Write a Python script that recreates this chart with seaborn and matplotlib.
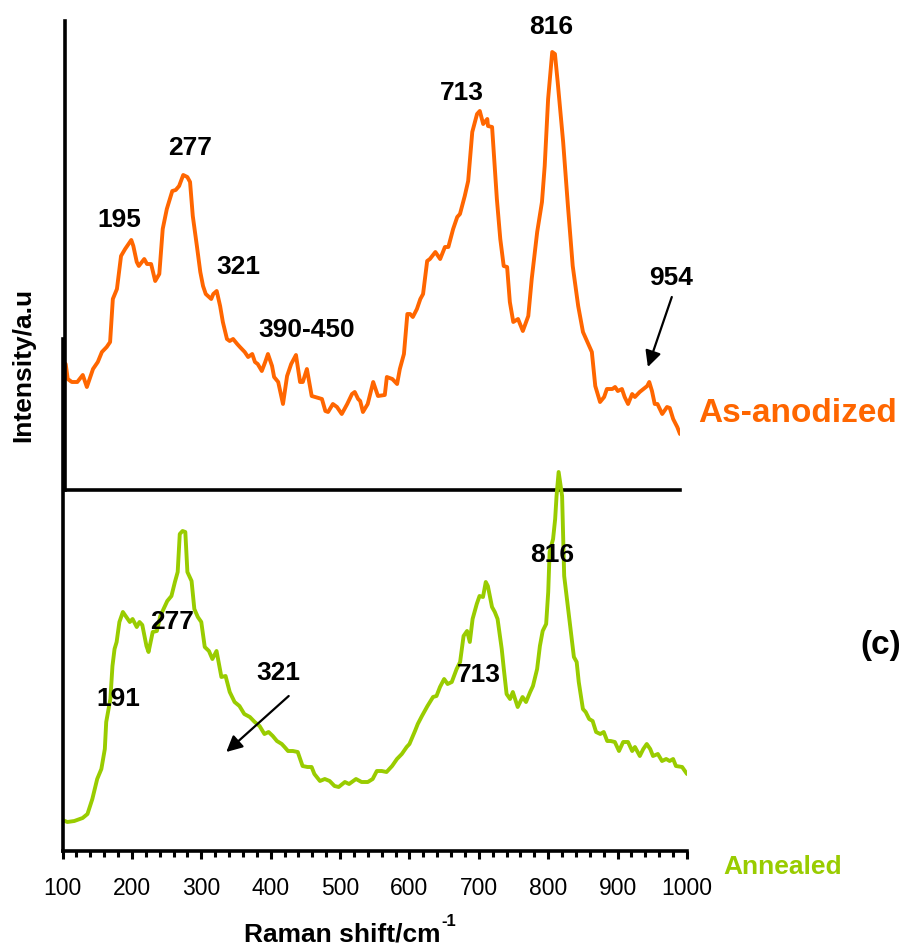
import numpy as np
import pandas as pd
import matplotlib
matplotlib.use("Agg")
import matplotlib.pyplot as plt
import seaborn as sns

# ---------------- data (arbitrary intensity units) ----------------
anod_shift = [101, 104, 110, 118, 126, 132, 141, 148, 154, 161, 166, 170, 176, 182, 188, 197, 200,
              205, 208, 216, 220, 226, 232, 238, 243, 249, 257, 262, 267, 273, 279, 283, 287, 293,
              298, 302, 306, 314, 317, 322, 327, 331, 337, 341, 346, 352, 356, 363, 368, 374, 378,
              382, 388, 393, 397, 403, 406, 412, 419, 425, 431, 438, 444, 448, 454, 461, 466, 476,
              481, 485, 492, 498, 505, 513, 520, 524, 529, 532, 536, 543, 551, 558, 568, 571, 579,
              586, 590, 596, 601, 605, 609, 615, 620, 624, 630, 634, 642, 649, 656, 661, 668, 674,
              678, 685, 690, 696, 703, 707, 712, 718, 719, 725, 732, 737, 742, 747, 751, 756, 763,
              770, 778, 783, 791, 798, 802, 807, 813, 817, 821, 829, 836, 843, 851, 858, 871, 876,
              883, 889, 893, 901, 905, 909, 915, 919, 924, 930, 934, 941, 952, 955, 959, 963, 967,
              974, 981, 985, 990, 996, 1000]
anod_int = [126, 111, 108, 108, 115, 103, 121, 128, 138, 143, 148, 191, 201, 234, 241, 250, 244,
            228, 224, 231, 226, 226, 209, 216, 261, 281, 299, 300, 304, 315, 313, 308, 274, 244,
            218, 204, 196, 191, 196, 199, 184, 168, 151, 149, 151, 146, 143, 138, 133, 136, 128,
            126, 119, 128, 136, 124, 113, 108, 86, 114, 126, 135, 108, 108, 121, 94, 93, 91,
            79, 78, 86, 83, 76, 86, 96, 98, 91, 89, 78, 86, 108, 94, 95, 113, 111,
            106, 121, 136, 176, 176, 173, 181, 191, 196, 229, 231, 238, 231, 243, 243, 261, 273,
            276, 294, 309, 358, 376, 379, 366, 371, 364, 363, 291, 251, 224, 223, 188, 168, 171,
            159, 174, 211, 258, 288, 324, 391, 438, 436, 408, 348, 284, 224, 184, 158, 138, 104,
            88, 93, 101, 101, 103, 99, 101, 93, 86, 96, 93, 98, 104, 108, 99, 86, 86,
            76, 83, 82, 71, 63, 56]

ann_shift = [100, 107, 117, 129, 136, 143, 150, 156, 161, 163, 169, 172, 175, 178, 182, 187, 192,
             197, 201, 207, 211, 215, 221, 224, 230, 236, 241, 247, 251, 257, 262, 266, 269, 273,
             277, 280, 286, 290, 295, 300, 305, 311, 316, 322, 329, 335, 341, 348, 355, 362, 370,
             377, 384, 391, 397, 403, 409, 416, 420, 425, 432, 439, 442, 446, 453, 459, 463, 471,
             478, 485, 492, 498, 507, 513, 523, 531, 540, 547, 553, 560, 567, 575, 582, 589, 596,
             600, 608, 612, 618, 622, 626, 634, 639, 644, 650, 655, 661, 668, 673, 678, 683, 687,
             691, 697, 701, 706, 710, 713, 719, 723, 727, 733, 736, 740, 745, 749, 756, 763, 768,
             774, 778, 784, 788, 792, 797, 800, 802, 807, 810, 812, 815, 820, 823, 827, 831, 837,
             841, 844, 850, 854, 859, 864, 869, 875, 880, 885, 890, 896, 902, 908, 915, 921, 925,
             932, 937, 942, 947, 951, 958, 964, 970, 975, 980, 984, 993, 1000]
ann_int = [31, 29, 30, 33, 37, 52, 72, 82, 102, 129, 152, 185, 202, 209, 229, 239, 234,
           229, 232, 224, 229, 226, 205, 199, 219, 220, 235, 244, 250, 255, 269, 279, 317, 320,
           319, 279, 270, 242, 234, 229, 204, 200, 192, 200, 174, 175, 159, 149, 145, 137, 134,
           129, 125, 117, 119, 115, 110, 107, 104, 100, 100, 99, 93, 85, 84, 84, 77, 70,
           72, 70, 65, 64, 69, 67, 72, 69, 69, 72, 80, 80, 79, 85, 92, 97, 104,
           107, 120, 127, 135, 140, 145, 154, 155, 164, 172, 167, 169, 182, 189, 215, 220, 209,
           232, 247, 255, 254, 269, 265, 244, 239, 232, 202, 182, 157, 152, 159, 144, 154, 149,
           159, 165, 182, 205, 220, 227, 259, 299, 312, 332, 355, 379, 355, 275, 252, 229, 194,
           189, 169, 142, 139, 132, 130, 119, 117, 119, 110, 110, 109, 100, 109, 109, 100, 104,
           95, 102, 107, 102, 95, 97, 90, 92, 90, 92, 85, 84, 77]

xticks = [100, 200, 300, 400, 500, 600, 700, 800, 900, 1000]
top_labels = [("195", 179, 271), ("277", 283, 343), ("321", 353, 224), ("390-450", 454, 161),
              ("713", 681, 398), ("816", 811, 464), ("954", 987, 213)]
bot_labels = [("191", 180, 153), ("277", 258, 230), ("321", 411, 179), ("713", 700, 177),
              ("816", 805, 297)]

ORANGE = "#FF6600"
GREEN = "#99CC00"

# ---------------- style ----------------
sns.set_style("white")
plt.rcParams["font.family"] = ["Liberation Sans", "DejaVu Sans"]
plt.rcParams["text.color"] = "black"
plt.rcParams["xtick.color"] = "black"
plt.rcParams["xtick.labelcolor"] = "black"
plt.rcParams["axes.labelcolor"] = "black"

fig = plt.figure(figsize=(9.06, 9.53), dpi=100)
W, H = 906, 953

ax_top = fig.add_axes([65 / W, 1 - 491 / H, 615 / W, (491 - 22) / H])
ax_bot = fig.add_axes([62.5 / W, 1 - 852 / H, 624.5 / W, (852 - 340) / H])

df_a = pd.DataFrame({"shift": anod_shift, "intensity": anod_int})
df_b = pd.DataFrame({"shift": ann_shift, "intensity": ann_int})

sns.lineplot(data=df_a, x="shift", y="intensity", ax=ax_top, color=ORANGE, lw=2.8)
sns.lineplot(data=df_b, x="shift", y="intensity", ax=ax_bot, color=GREEN, lw=2.8)

for ax in (ax_top, ax_bot):
    ax.set_facecolor("none")
    ax.patch.set_alpha(0)
    for s in ("top", "right"):
        ax.spines[s].set_visible(False)
    for s in ("left", "bottom"):
        ax.spines[s].set_linewidth(2.6)
        ax.spines[s].set_color("black")
    ax.set_xlabel("")
    ax.set_ylabel("")
    ax.set_yticks([])
    ax.set_xlim(100, 1000)

ax_top.set_ylim(0, 469)
ax_top.set_xticks([])
ax_bot.set_ylim(0, 512)
ax_bot.set_xticks(xticks)
ax_bot.set_xticklabels([str(t) for t in xticks], fontsize=16.5, color="black")
ax_bot.set_xticks(np.arange(100, 1001, 20), minor=True)
ax_bot.tick_params(axis="x", which="major", direction="out", length=6, width=2.2,
                   color="black", pad=12, bottom=True)
ax_bot.tick_params(axis="x", which="minor", direction="out", length=4, width=2.2,
                   color="black", bottom=True)

ax_top.set_zorder(1)
ax_bot.set_zorder(2)

for txt, x, y in top_labels:
    ax_top.text(x, y, txt, ha="center", va="center", fontsize=19, fontweight="bold",
                color="black", clip_on=False)
for txt, x, y in bot_labels:
    ax_bot.text(x, y, txt, ha="center", va="center", fontsize=19, fontweight="bold",
                color="black", clip_on=False)

arrow_kw = dict(arrowstyle="-|>", color="black", lw=1.6, mutation_scale=24,
                shrinkA=0, shrinkB=0)
ax_top.annotate("", xy=(953, 123), xytext=(988, 193), arrowprops=arrow_kw,
                annotation_clip=False)
ax_bot.annotate("", xy=(336, 99), xytext=(426, 155), arrowprops=arrow_kw,
                annotation_clip=False)

fig.text(798 / W, 1 - 414 / H, "As-anodized", color=ORANGE, fontsize=24,
         fontweight="bold", ha="center", va="center")
fig.text(783 / W, 1 - 867 / H, "Annealed", color=GREEN, fontsize=19,
         fontweight="bold", ha="center", va="center")
fig.text(881 / W, 1 - 646 / H, "(c)", color="black", fontsize=24,
         fontweight="bold", ha="center", va="center")
fig.text(440 / W, 1 - 935 / H, "Raman shift/cm", color="black",
         fontsize=19, fontweight="bold", ha="right", va="center")
fig.text(441 / W, 1 - 922 / H, "-1", color="black",
         fontsize=12, fontweight="bold", ha="left", va="center")
fig.text(23 / W, 1 - 365 / H, "Intensity/a.u", color="black", fontsize=19,
         fontweight="bold", ha="center", va="center", rotation=90)

fig.savefig("out.png", dpi=100)
